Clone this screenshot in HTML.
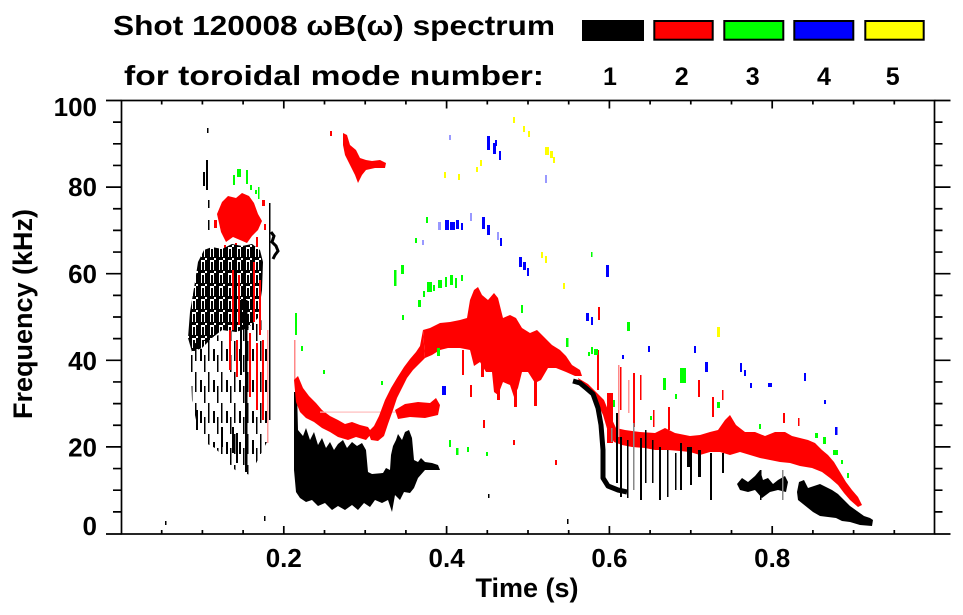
<!DOCTYPE html>
<html><head><meta charset="utf-8"><style>
html,body{margin:0;padding:0;background:#fff;}
svg{display:block;}
text{font-family:"Liberation Sans",Arial,sans-serif;font-weight:bold;fill:#000;}
</style></head><body>
<svg width="963" height="615" viewBox="0 0 963 615" xmlns="http://www.w3.org/2000/svg">
<defs>
<pattern id="pkd" width="9" height="13" patternUnits="userSpaceOnUse">
<rect x="0" y="0" width="3" height="13"/><rect x="4" y="2" width="2" height="9"/><rect x="7" y="0" width="2" height="11"/><rect x="3" y="10" width="4" height="3"/>
</pattern>
<pattern id="pks" width="13" height="31" patternUnits="userSpaceOnUse">
<rect x="0" y="0" width="1.5" height="20"/><rect x="5" y="8" width="2" height="12"/><rect x="9" y="14" width="1.5" height="17"/>
</pattern>
</defs>
<rect width="963" height="615" fill="#fff"/>

<!-- ===== LEFT REGION ===== -->
<rect x="207" y="128" width="1.5" height="5"/>
<rect x="206" y="160" width="2" height="30"/>
<rect x="203" y="172" width="2" height="14"/>
<rect x="208" y="200" width="1.5" height="8"/>
<rect x="208" y="220" width="1.5" height="10"/>
<g fill="#0f0">
<rect x="237" y="169" width="4" height="8"/><rect x="233" y="175" width="2" height="10"/><rect x="246" y="170" width="2" height="14"/><rect x="250" y="185" width="2" height="5"/><rect x="255" y="190" width="2" height="4"/><rect x="258" y="187" width="1.5" height="12"/>
</g>
<polygon fill="#f00" points="222,202 228,196 236,198 242,193 249,196 254,203 258,214 262,221 258,230 252,236 247,243 240,240 233,237 226,242 221,232 217,214"/>
<g fill="#f00">
<rect x="214" y="220" width="3" height="8"/><rect x="262" y="200" width="3" height="6"/><rect x="235" y="243" width="2" height="8"/><rect x="256" y="237" width="2" height="10"/><rect x="224" y="245" width="2" height="8"/><rect x="264" y="224" width="2" height="6"/>
</g>
<polygon fill="url(#pkd)" points="198,262 204,250 212,247 222,249 232,244 242,246 252,244 260,250 263,262 262,290 258,318 248,328 236,332 222,330 212,338 202,348 192,352 188,338 190,312 194,288"/>
<polygon fill="url(#pks)" points="190,345 262,320 270,360 268,440 250,475 235,470 215,448 200,440 192,400"/>
<rect x="245" y="300" width="2.5" height="172"/>
<rect x="269" y="203" width="1.5" height="217"/>
<rect x="240" y="300" width="2" height="75"/>
<rect x="196" y="410" width="2" height="20"/>
<rect x="221" y="427" width="2" height="20"/>
<rect x="232" y="427" width="2" height="26"/>
<rect x="236" y="433" width="2" height="30"/>
<rect x="252" y="440" width="2" height="10"/>
<polyline points="271,232 274,236 272,242 276,246 278,251 275,255 273,259" fill="none" stroke="#000" stroke-width="3"/>
<g fill="#f00">
<rect x="229" y="330" width="2" height="40"/><rect x="236" y="340" width="2" height="37"/><rect x="249" y="333" width="2" height="64"/><rect x="256" y="343" width="2" height="67"/><rect x="262" y="340" width="2" height="80"/>
<rect x="232" y="270" width="2" height="60"/><rect x="238" y="275" width="2" height="50"/><rect x="253" y="262" width="2" height="60"/><rect x="259" y="280" width="2" height="55"/>
</g>
<rect x="267" y="330" width="1.5" height="113" fill="#f99"/>

<!-- ===== MIDDLE REGION ===== -->
<polygon fill="#f00" points="343,133 347,135 350,145 356,150 360,158 366,160 372,161 380,160 386,163 385,168 375,168 366,170 362,175 358,183 355,175 350,165 345,155 343,145"/>
<rect x="330" y="131" width="2" height="5" fill="#f00"/>
<rect x="294" y="340" width="1.5" height="40" fill="#f88"/>
<polygon fill="#000" points="294,392 297,392 298,430 303,436 306,428 310,440 314,432 318,445 322,438 326,448 330,442 334,450 338,444 343,440 347,448 352,442 357,446 362,443 366,450 368,472 372,474 383,473 386,468 390,470 391,455 393,446 396,440 398,434 402,440 405,432 409,430 412,438 414,460 418,462 421,458 425,462 432,463 438,465 440,470 425,470 418,478 414,488 410,493 404,492 400,500 395,495 392,512 388,500 382,503 375,500 370,507 364,503 358,510 352,505 345,510 338,506 332,510 325,503 318,506 312,500 306,502 300,498 296,492 294,470"/>
<polygon fill="#f00" points="294,380 298,376 303,388 309,396 316,403 322,410 330,416 338,420 345,424 352,422 360,425 368,427 372,433 366,440 356,437 348,440 338,437 330,432 322,428 314,422 306,418 300,412 296,402"/>
<rect x="320" y="411.5" width="80" height="1.2" fill="#fbb"/>
<polygon fill="#f00" points="395,410 405,404 418,402 430,403 436,398 440,405 438,415 425,418 410,417 398,419"/>
<polygon fill="#f00" points="368,432 374,426 379,416 385,400 391,388 397,378 404,367 410,359 416,352 420,346 423,330 425,358 419,364 413,370 407,378 402,388 397,398 393,410 388,424 384,436 378,441 371,440"/>
<polygon fill="#f00" points="423,330 430,328 440,323 450,322 460,320 467,318 470,300 474,290 478,287 482,295 488,300 494,293 498,298 503,318 510,315 516,318 522,328 530,333 537,330 545,338 552,345 560,350 566,356 572,365 580,370 582,376 575,376 566,372 556,368 548,368 541,380 535,383 528,372 522,372 518,388 514,397 510,385 503,382 498,395 494,392 492,372 486,372 480,362 474,366 470,350 460,348 448,348 440,350 432,355 425,358"/>
<g fill="#f00">
<rect x="534" y="378" width="3" height="28"/><rect x="514" y="385" width="3" height="22"/><rect x="497" y="385" width="3" height="15"/><rect x="481" y="362" width="3" height="15"/><rect x="462" y="350" width="2" height="25"/><rect x="470" y="385" width="2" height="12"/>
<rect x="483" y="420" width="2" height="8"/><rect x="513" y="440" width="2" height="5"/><rect x="555" y="460" width="2" height="5"/><rect x="598" y="307" width="2" height="13"/>
</g>

<!-- ===== RIGHT REGION ===== -->
<polygon fill="#f00" points="578,378 588,384 596,392 604,400 610,415 616,428 625,430 640,432 655,433 665,428 675,433 690,436 700,435 710,432 718,430 725,420 730,415 736,425 745,432 755,432 765,436 775,432 785,432 792,436 800,438 808,440 815,443 822,450 828,455 834,462 840,472 846,482 852,490 858,497 862,505 858,507 850,500 844,493 838,485 830,478 822,472 812,468 800,466 790,463 780,462 770,460 760,458 750,455 740,452 730,455 720,452 710,452 700,455 690,452 680,451 668,450 655,450 645,448 632,447 622,445 614,442 608,432 603,415 596,400 588,392 580,386"/>
<g fill="#f00">
<rect x="597" y="350" width="2" height="40"/><rect x="620" y="367" width="1.5" height="43"/><rect x="633" y="373" width="2" height="54"/><rect x="640" y="375" width="1.5" height="25"/><rect x="653" y="410" width="1.5" height="17"/><rect x="668" y="407" width="2" height="23"/><rect x="698" y="380" width="2" height="17"/><rect x="712" y="397" width="2" height="20"/><rect x="722" y="390" width="1.5" height="10"/><rect x="783" y="413" width="2" height="10"/><rect x="798" y="418" width="1.5" height="8"/><rect x="607" y="393" width="6" height="50"/>
</g>
<rect x="618" y="365" width="1.5" height="72" fill="#f88"/>
<rect x="628" y="380" width="1.5" height="33" fill="#f99"/>
<polyline points="573,381 580,383 586,388 593,394 598,408 601,425 603,450 603,478 608,486 618,490 627,492" fill="none" stroke="#000" stroke-width="5" stroke-linejoin="round"/>
<g fill="#000">
<rect x="616" y="413" width="2" height="70"/><rect x="620" y="437" width="2" height="60"/><rect x="627" y="440" width="1.5" height="58"/><rect x="640" y="438" width="2" height="62"/><rect x="645" y="430" width="1.5" height="53"/><rect x="652" y="440" width="1.5" height="43"/><rect x="659" y="447" width="2" height="53"/><rect x="667" y="450" width="1.5" height="47"/><rect x="675" y="453" width="1.5" height="37"/><rect x="680" y="443" width="2" height="47"/><rect x="687" y="447" width="5" height="20"/><rect x="690" y="460" width="2" height="25"/><rect x="698" y="450" width="3" height="27"/><rect x="710" y="453" width="2" height="47"/><rect x="722" y="453" width="2" height="20"/>
</g>
<rect x="633" y="423" width="1.5" height="67" fill="#888"/>
<rect x="611" y="428" width="1.5" height="14" fill="#888"/>
<polygon fill="#000" points="737,484 742,478 748,482 755,476 760,470 763,480 768,478 773,484 778,480 785,476 788,482 786,492 778,490 770,492 762,498 755,490 748,492 740,490"/>
<rect x="760" y="470" width="1.5" height="30"/>
<rect x="782" y="470" width="1.5" height="30" fill="#888"/>
<polygon fill="#000" points="797,492 799,482 804,480 808,488 814,486 820,484 826,487 832,490 838,494 844,500 850,506 857,511 864,516 870,518 873,520 872,526 860,525 850,522 842,521 836,518 828,517 820,516 813,512 808,508 803,504 798,500"/>
<rect x="165" y="521" width="1.5" height="4"/><rect x="264" y="516" width="1.5" height="5"/><rect x="567" y="519" width="1.5" height="5"/><rect x="488" y="494" width="1.5" height="4"/>

<g fill="#0f0">
<rect x="295" y="313" width="2" height="22"/><rect x="301" y="346" width="2" height="5"/><rect x="323" y="370" width="2" height="4"/><rect x="381" y="381" width="2" height="4"/>
<rect x="418" y="300" width="3" height="7"/><rect x="402" y="315" width="2" height="5"/>
<rect x="394" y="270" width="2.5" height="16"/><rect x="401" y="265" width="3" height="9"/>
<rect x="427" y="282" width="5" height="10"/><rect x="433" y="285" width="2" height="6"/><rect x="438" y="280" width="4" height="8"/><rect x="445" y="277" width="2" height="10"/><rect x="450" y="275" width="3" height="10"/><rect x="455" y="278" width="2" height="10"/><rect x="461" y="275" width="2" height="6"/><rect x="423" y="291" width="2" height="6"/>
<rect x="426" y="217" width="2" height="6"/><rect x="415" y="238" width="2" height="5"/>
<rect x="521" y="305" width="2" height="8"/><rect x="437" y="348" width="3" height="8"/>
<rect x="449" y="440" width="2" height="7"/><rect x="456" y="448" width="2.5" height="7"/><rect x="467" y="447" width="2" height="5"/><rect x="486" y="452" width="2" height="4"/>
<rect x="566" y="338" width="2.5" height="9"/><rect x="591" y="347" width="2" height="7"/><rect x="594" y="349" width="4" height="6"/><rect x="588" y="352" width="2" height="4"/>
<rect x="627" y="322" width="3" height="9"/><rect x="680" y="368" width="6" height="15"/><rect x="663" y="378" width="3" height="12"/><rect x="675" y="394" width="2" height="5"/><rect x="613" y="400" width="2" height="7"/><rect x="717" y="402" width="3" height="6"/><rect x="650" y="416" width="2" height="4"/><rect x="759" y="424" width="2" height="5"/>
<rect x="815" y="433" width="3" height="5"/><rect x="823" y="437" width="3" height="7"/><rect x="833" y="450" width="5" height="5"/><rect x="841" y="460" width="2" height="4"/><rect x="847" y="473" width="2" height="5"/><rect x="591" y="252" width="1.5" height="5"/>
</g>
<g fill="#00f">
<rect x="487" y="136" width="3" height="14"/><rect x="493" y="143" width="3" height="11"/><rect x="499" y="151" width="2" height="9"/><rect x="495" y="140" width="2" height="6"/>
<rect x="445" y="220" width="4" height="10"/><rect x="450" y="222" width="5" height="8"/><rect x="456" y="220" width="3" height="9"/><rect x="461" y="223" width="2" height="7"/>
<rect x="482" y="217" width="3" height="12"/><rect x="487" y="225" width="3" height="10"/><rect x="500" y="238" width="2" height="8"/>
<rect x="519" y="257" width="3" height="10"/><rect x="523" y="262" width="3" height="8"/><rect x="527" y="268" width="2" height="8"/>
<rect x="606" y="265" width="3" height="12"/><rect x="586" y="313" width="3" height="8"/><rect x="591" y="317" width="2" height="8"/>
<rect x="442" y="386" width="4" height="9"/><rect x="705" y="362" width="3" height="10"/><rect x="740" y="363" width="2" height="9"/><rect x="744" y="370" width="2" height="6"/>
<rect x="768" y="383" width="4" height="4"/><rect x="750" y="383" width="2" height="5"/><rect x="835" y="427" width="2.5" height="8"/><rect x="804" y="373" width="2" height="8"/><rect x="824" y="400" width="2" height="4"/><rect x="648" y="346" width="2" height="6"/><rect x="694" y="346" width="2" height="7"/><rect x="622" y="355" width="2" height="4"/>
</g>
<g fill="#99f">
<rect x="438" y="222" width="3" height="8"/><rect x="470" y="213" width="2" height="8"/><rect x="497" y="232" width="2" height="8"/><rect x="545" y="175" width="2" height="8"/><rect x="449" y="135" width="2" height="5"/><rect x="422" y="240" width="2" height="5"/>
</g>
<g fill="#ff0">
<rect x="513" y="117" width="2" height="6"/><rect x="523" y="126" width="2" height="6"/><rect x="528" y="131" width="2" height="6"/><rect x="545" y="147" width="4" height="8"/><rect x="550" y="151" width="3" height="7"/><rect x="553" y="157" width="2" height="6"/>
<rect x="480" y="160" width="2" height="6"/><rect x="476" y="167" width="2" height="5"/><rect x="444" y="172" width="2" height="6"/><rect x="458" y="174" width="2" height="6"/>
<rect x="541" y="252" width="2" height="6"/><rect x="545" y="256" width="2" height="7"/><rect x="563" y="283" width="2" height="6"/><rect x="717" y="327" width="3" height="10"/>
</g>

<!-- ===== AXES ===== -->
<g stroke="#000" stroke-width="1.7" fill="none">
<rect x="121.5" y="100.5" width="813" height="433.5"/>
<path d="M106 100.5H121.5M106 187.1H121.5M106 273.7H121.5M106 360.3H121.5M106 446.9H121.5M106 534H121.5"/>
<path d="M113 122.15H121.5M113 143.8H121.5M113 165.45H121.5M113 208.75H121.5M113 230.4H121.5M113 252.05H121.5M113 295.35H121.5M113 317H121.5M113 338.65H121.5M113 381.95H121.5M113 403.6H121.5M113 425.25H121.5M113 468.55H121.5M113 490.2H121.5M113 511.85H121.5"/>
<path d="M934.5 100.5H950.5M934.5 187.1H950.5M934.5 273.7H950.5M934.5 360.3H950.5M934.5 446.9H950.5M934.5 534H950.5"/>
<path d="M934.5 122.15H942.5M934.5 143.8H942.5M934.5 165.45H942.5M934.5 208.75H942.5M934.5 230.4H942.5M934.5 252.05H942.5M934.5 295.35H942.5M934.5 317H942.5M934.5 338.65H942.5M934.5 381.95H942.5M934.5 403.6H942.5M934.5 425.25H942.5M934.5 468.55H942.5M934.5 490.2H942.5M934.5 511.85H942.5"/>
<path d="M283.8 534V526M446.6 534V526M609.4 534V526M772.2 534V526"/>
<path d="M161.7 534V530M202.4 534V530M243.1 534V530M324.5 534V530M365.2 534V530M405.9 534V530M487.3 534V530M528 534V530M568.7 534V530M650.1 534V530M690.8 534V530M731.5 534V530M812.9 534V530M853.6 534V530M894.3 534V530"/>
<path d="M283.8 100.5V108.5M446.6 100.5V108.5M609.4 100.5V108.5M772.2 100.5V108.5"/>
<path d="M161.7 100.5V104.5M202.4 100.5V104.5M243.1 100.5V104.5M324.5 100.5V104.5M365.2 100.5V104.5M405.9 100.5V104.5M487.3 100.5V104.5M528 100.5V104.5M568.7 100.5V104.5M650.1 100.5V104.5M690.8 100.5V104.5M731.5 100.5V104.5M812.9 100.5V104.5M853.6 100.5V104.5M894.3 100.5V104.5"/>
</g>

<g font-size="26" text-anchor="end">
<text x="97" y="116">100</text>
<text x="97" y="196">80</text>
<text x="97" y="283">60</text>
<text x="97" y="370">40</text>
<text x="97" y="456.5">20</text>
<text x="97" y="535">0</text>
</g>
<g font-size="26" text-anchor="middle">
<text x="283.8" y="567">0.2</text>
<text x="446.6" y="567">0.4</text>
<text x="609.4" y="567">0.6</text>
<text x="772.2" y="567">0.8</text>
</g>
<text x="527" y="597" font-size="27" text-anchor="middle">Time (s)</text>
<text transform="translate(32,314) rotate(-90)" font-size="27" text-anchor="middle">Frequency (kHz)</text>

<text x="113" y="35" font-size="28" textLength="442" lengthAdjust="spacingAndGlyphs">Shot 120008 ωB(ω) spectrum</text>
<text x="124" y="85" font-size="28" textLength="420" lengthAdjust="spacingAndGlyphs">for toroidal mode number:</text>

<rect x="582" y="20" width="62" height="21" fill="#000"/>
<rect x="654.3" y="21" width="58.4" height="18.7" fill="#f00" stroke="#000" stroke-width="2"/>
<rect x="724.3" y="21" width="59" height="18.7" fill="#0f0" stroke="#000" stroke-width="2"/>
<rect x="794.3" y="21" width="59" height="18.7" fill="#00f" stroke="#000" stroke-width="2"/>
<rect x="865.3" y="21" width="58.4" height="18.7" fill="#ff0" stroke="#000" stroke-width="2"/>
<g font-size="25" text-anchor="middle">
<text x="610" y="85">1</text>
<text x="681.7" y="85">2</text>
<text x="752.7" y="85">3</text>
<text x="824" y="85">4</text>
<text x="892.7" y="85">5</text>
</g>
</svg>
</body></html>
